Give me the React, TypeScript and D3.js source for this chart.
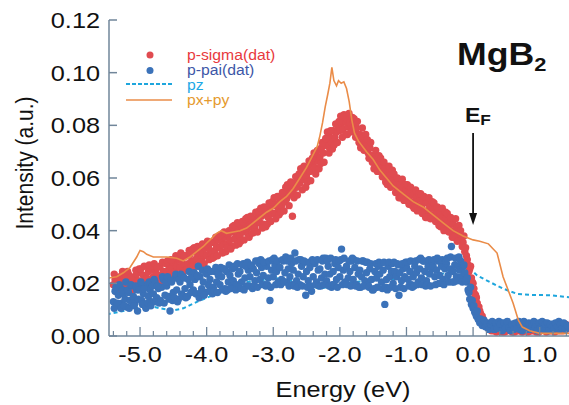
import React from 'react';
import * as d3 from 'd3';

// ---------- data ----------
// scatter rows: each row starts at rowStart + i*0.1 eV, points every 0.025 eV
// two interleaved scans per series (second one shifted by half a step)
const rowStartEnergy = -5.4;
const rowStep = 0.1;
const pointStep = 0.025;
const secondScanShift = 0.0125;

const sigmaRows: number[][] = [
  [0.0195, 0.0215, 0.0185, 0.0205], // -5.4
  [0.0225, 0.019, 0.021, 0.02], // -5.3
  [0.0215, 0.0235, 0.0195, 0.022], // -5.2
  [0.02, 0.0225, 0.0235, 0.021], // -5.1
  [0.0245, 0.0205, 0.023, 0.0215], // -5.0
  [0.022, 0.0245, 0.0215, 0.025], // -4.9
  [0.0225, 0.0255, 0.0235, 0.0215], // -4.8
  [0.0265, 0.023, 0.0245, 0.0225], // -4.7
  [0.0245, 0.027, 0.0235, 0.026], // -4.6
  [0.028, 0.0245, 0.0265, 0.029], // -4.5
  [0.026, 0.0285, 0.03, 0.027], // -4.4
  [0.0305, 0.0275, 0.031, 0.0285], // -4.3
  [0.0285, 0.032, 0.0295, 0.0315], // -4.2
  [0.033, 0.0295, 0.0315, 0.0335], // -4.1
  [0.0305, 0.034, 0.0325, 0.031], // -4.0
  [0.0355, 0.0325, 0.034, 0.0365], // -3.9
  [0.0335, 0.036, 0.0345, 0.0375], // -3.8
  [0.035, 0.0385, 0.0365, 0.034], // -3.7
  [0.0395, 0.037, 0.0405, 0.0385], // -3.6
  [0.038, 0.0415, 0.0395, 0.0425], // -3.5
  [0.0405, 0.0385, 0.043, 0.0415], // -3.4
  [0.0445, 0.0415, 0.0435, 0.046], // -3.3
  [0.043, 0.0455, 0.0425, 0.047], // -3.2
  [0.0475, 0.045, 0.0485, 0.0465], // -3.1
  [0.0495, 0.0465, 0.05, 0.0485], // -3.0
  [0.0515, 0.0495, 0.0535, 0.051], // -2.9
  [0.052, 0.055, 0.0535, 0.0565], // -2.8
  [0.0545, 0.058, 0.0565, 0.0595], // -2.7
  [0.058, 0.0615, 0.0595, 0.0625], // -2.6
  [0.0605, 0.064, 0.0625, 0.0655], // -2.5
  [0.0665, 0.064, 0.0685, 0.0665], // -2.4
  [0.068, 0.0715, 0.0695, 0.0725], // -2.3
  [0.0745, 0.072, 0.0755, 0.0735], // -2.2
  [0.078, 0.0755, 0.0775, 0.0795], // -2.1
  [0.078, 0.0805, 0.0785, 0.0815], // -2.0
  [0.0825, 0.0795, 0.081, 0.0785], // -1.9
  [0.0805, 0.0775, 0.079, 0.0765], // -1.8
  [0.0765, 0.074, 0.0755, 0.0725], // -1.7
  [0.0725, 0.0695, 0.0715, 0.0685], // -1.6
  [0.0685, 0.0655, 0.0675, 0.065], // -1.5
  [0.0655, 0.0625, 0.064, 0.0615], // -1.4
  [0.0625, 0.0595, 0.061, 0.0585], // -1.3
  [0.0595, 0.057, 0.0585, 0.056], // -1.2
  [0.0575, 0.0545, 0.0565, 0.054], // -1.1
  [0.0555, 0.0525, 0.0545, 0.051], // -1.0
  [0.0535, 0.0505, 0.0525, 0.0495], // -0.9
  [0.052, 0.049, 0.051, 0.0475], // -0.8
  [0.0505, 0.0475, 0.049, 0.046], // -0.7
  [0.0485, 0.0455, 0.047, 0.044], // -0.6
  [0.0465, 0.0435, 0.045, 0.042], // -0.5
  [0.0445, 0.0415, 0.043, 0.04], // -0.4
  [0.0425, 0.0395, 0.041, 0.038], // -0.3
  [0.0385, 0.0365, 0.0355, 0.032], // -0.2
  [0.0305, 0.027, 0.0255, 0.022], // -0.1
  [0.02, 0.016, 0.0145, 0.0105], // 0.0
  [0.0095, 0.0065, 0.0065, 0.004], // 0.1
  [0.0045, 0.003, 0.0035, 0.002], // 0.2
  [0.0025, 0.0035, 0.0015, 0.003], // 0.3
  [0.004, 0.002, 0.003, 0.0015], // 0.4
  [0.0035, 0.0025, 0.004, 0.002], // 0.5
  [0.003, 0.0015, 0.0035, 0.0025], // 0.6
  [0.002, 0.0035, 0.003, 0.0045], // 0.7
  [0.0025, 0.0015, 0.003, 0.002], // 0.8
  [0.0035, 0.0025, 0.0015, 0.003], // 0.9
  [0.002, 0.0035, 0.0025, 0.003], // 1.0
  [0.0015, 0.003, 0.002, 0.0035], // 1.1
  [0.0025, 0.0015, 0.003, 0.002], // 1.2
  [0.0035, 0.0025, 0.002, 0.003], // 1.3
  [0.0025, 0.0035], // 1.4
];

const sigmaRows2: number[][] = [
  [0.0235, 0.017, 0.021, 0.0165], // -5.4
  [0.018, 0.0245, 0.0175, 0.0225], // -5.3
  [0.0245, 0.018, 0.0225, 0.0175], // -5.2
  [0.018, 0.025, 0.019, 0.0255], // -5.1
  [0.0255, 0.0185, 0.0265, 0.019], // -5.0
  [0.0195, 0.027, 0.0205, 0.0265], // -4.9
  [0.0275, 0.02, 0.026, 0.0205], // -4.8
  [0.0205, 0.028, 0.021, 0.0275], // -4.7
  [0.0285, 0.0215, 0.029, 0.022], // -4.6
  [0.023, 0.0305, 0.0225, 0.0295], // -4.5
  [0.0315, 0.024, 0.0305, 0.025], // -4.4
  [0.0255, 0.0325, 0.026, 0.033], // -4.3
  [0.0335, 0.0265, 0.034, 0.027], // -4.2
  [0.028, 0.035, 0.0275, 0.0345], // -4.1
  [0.036, 0.029, 0.0355, 0.0295], // -4.0
  [0.03, 0.0375, 0.0305, 0.038], // -3.9
  [0.0385, 0.0315, 0.0395, 0.032], // -3.8
  [0.0335, 0.04, 0.033, 0.0415], // -3.7
  [0.042, 0.0345, 0.043, 0.035], // -3.6
  [0.036, 0.0435, 0.0365, 0.0445], // -3.5
  [0.045, 0.0375, 0.0455, 0.039], // -3.4
  [0.0395, 0.047, 0.0395, 0.0475], // -3.3
  [0.0485, 0.041, 0.049, 0.0415], // -3.2
  [0.0425, 0.0505, 0.0435, 0.051], // -3.1
  [0.0525, 0.0445, 0.053, 0.046], // -3.0
  [0.047, 0.0545, 0.0475, 0.0565], // -2.9
  [0.0575, 0.0495, 0.0585, 0.0455], // -2.8
  [0.0525, 0.0605, 0.0535, 0.0615], // -2.7
  [0.0635, 0.0555, 0.0645, 0.0565], // -2.6
  [0.0585, 0.0665, 0.059, 0.0675], // -2.5
  [0.0695, 0.0615, 0.0705, 0.0635], // -2.4
  [0.0655, 0.0735, 0.066, 0.075], // -2.3
  [0.0775, 0.0695, 0.078, 0.071], // -2.2
  [0.0725, 0.0805, 0.0735, 0.0815], // -2.1
  [0.0835, 0.0755, 0.084, 0.0765], // -2.0
  [0.0765, 0.0845, 0.0775, 0.083], // -1.9
  [0.0825, 0.0755, 0.0815, 0.0735], // -1.8
  [0.0715, 0.079, 0.0705, 0.0765], // -1.7
  [0.0745, 0.0675, 0.0735, 0.066], // -1.6
  [0.0635, 0.0705, 0.0625, 0.0685], // -1.5
  [0.0675, 0.0605, 0.066, 0.0585], // -1.4
  [0.0575, 0.0645, 0.0565, 0.063], // -1.3
  [0.0615, 0.0545, 0.06, 0.0525], // -1.2
  [0.0525, 0.0595, 0.0515, 0.0575], // -1.1
  [0.0575, 0.05, 0.0565, 0.0495], // -1.0
  [0.0485, 0.0555, 0.0475, 0.054], // -0.9
  [0.054, 0.0465, 0.053, 0.045], // -0.8
  [0.045, 0.0525, 0.0445, 0.051], // -0.7
  [0.0505, 0.0435, 0.049, 0.042], // -0.6
  [0.0415, 0.0485, 0.04, 0.047], // -0.5
  [0.0465, 0.0395, 0.045, 0.0375], // -0.4
  [0.0375, 0.0445, 0.036, 0.042], // -0.3
  [0.04, 0.034, 0.038, 0.0335], // -0.2
  [0.029, 0.0245, 0.0265, 0.0205], // -0.1
  [0.018, 0.0155, 0.0125, 0.011], // 0.0
  [0.0085, 0.0075, 0.0055, 0.005], // 0.1
  [0.0035, 0.004, 0.0025, 0.003], // 0.2
  [0.002, 0.0045, 0.003, 0.0025], // 0.3
  [0.0035, 0.0015, 0.0045, 0.0025], // 0.4
  [0.002, 0.004, 0.003, 0.0015], // 0.5
  [0.004, 0.0025, 0.002, 0.0035], // 0.6
  [0.003, 0.0015, 0.004, 0.0025], // 0.7
  [0.0045, 0.003, 0.002, 0.0035], // 0.8
  [0.002, 0.004, 0.003, 0.0015], // 0.9
  [0.0035, 0.0025, 0.0045, 0.002], // 1.0
  [0.0025, 0.004, 0.003, 0.002], // 1.1
  [0.0035, 0.002, 0.004, 0.003], // 1.2
  [0.002, 0.0035, 0.003, 0.0045], // 1.3
  [0.003], // 1.4
];

const paiRows: number[][] = [
  [0.013, 0.017, 0.0115, 0.0155], // -5.4
  [0.0185, 0.0125, 0.016, 0.014], // -5.3
  [0.011, 0.0165, 0.0135, 0.019], // -5.2
  [0.015, 0.0125, 0.0175, 0.014], // -5.1
  [0.0185, 0.0135, 0.016, 0.0115], // -5.0
  [0.0195, 0.015, 0.0175, 0.013], // -4.9
  [0.016, 0.0205, 0.0145, 0.018], // -4.8
  [0.0135, 0.0185, 0.0215, 0.0155], // -4.7
  [0.019, 0.015, 0.0095, 0.0205], // -4.6
  [0.0165, 0.022, 0.0175, 0.014], // -4.5
  [0.0205, 0.016, 0.0225, 0.018], // -4.4
  [0.015, 0.0215, 0.0195, 0.0235], // -4.3
  [0.0175, 0.0215, 0.016, 0.0265], // -4.2
  [0.0225, 0.018, 0.0205, 0.0165], // -4.1
  [0.0235, 0.0195, 0.0215, 0.0175], // -4.0
  [0.0185, 0.0245, 0.0205, 0.023], // -3.9
  [0.0195, 0.0225, 0.0255, 0.018], // -3.8
  [0.0245, 0.0205, 0.023, 0.0185], // -3.7
  [0.021, 0.026, 0.0195, 0.0235], // -3.6
  [0.0245, 0.0205, 0.0275, 0.022], // -3.5
  [0.019, 0.025, 0.0225, 0.0265], // -3.4
  [0.0255, 0.021, 0.024, 0.0285], // -3.3
  [0.0215, 0.026, 0.023, 0.0195], // -3.2
  [0.0265, 0.022, 0.0135, 0.025], // -3.1
  [0.0225, 0.027, 0.0245, 0.0205], // -3.0
  [0.026, 0.0215, 0.0285, 0.024], // -2.9
  [0.0205, 0.0255, 0.0225, 0.0275], // -2.8
  [0.025, 0.0315, 0.021, 0.0235], // -2.7
  [0.0195, 0.0265, 0.0225, 0.028], // -2.6
  [0.0245, 0.021, 0.026, 0.017], // -2.5
  [0.0225, 0.0275, 0.0205, 0.025], // -2.4
  [0.0255, 0.022, 0.0295, 0.0235], // -2.3
  [0.021, 0.0265, 0.0235, 0.0185], // -2.2
  [0.0245, 0.0275, 0.0215, 0.026], // -2.1
  [0.0225, 0.033, 0.025, 0.0205], // -2.0
  [0.0265, 0.022, 0.0245, 0.0285], // -1.9
  [0.0215, 0.026, 0.0195, 0.0235], // -1.8
  [0.025, 0.0225, 0.0285, 0.021], // -1.7
  [0.024, 0.0195, 0.0255, 0.0215], // -1.6
  [0.0175, 0.0245, 0.022, 0.0265], // -1.5
  [0.0235, 0.0205, 0.025, 0.012], // -1.4
  [0.0215, 0.0265, 0.0225, 0.0245], // -1.3
  [0.02, 0.0245, 0.0225, 0.027], // -1.2
  [0.024, 0.021, 0.0255, 0.0225], // -1.1
  [0.026, 0.0215, 0.0245, 0.0195], // -1.0
  [0.0225, 0.0265, 0.024, 0.0205], // -0.9
  [0.0255, 0.022, 0.0285, 0.0245], // -0.8
  [0.021, 0.0265, 0.0235, 0.0255], // -0.7
  [0.0265, 0.0225, 0.025, 0.0285], // -0.6
  [0.023, 0.0265, 0.0215, 0.0255], // -0.5
  [0.0275, 0.023, 0.0255, 0.034], // -0.4
  [0.0245, 0.027, 0.0225, 0.0265], // -0.3
  [0.025, 0.0225, 0.0265, 0.024], // -0.2
  [0.0205, 0.0175, 0.014, 0.012], // -0.1
  [0.0105, 0.009, 0.0075, 0.0065], // 0.0
  [0.005, 0.0055, 0.0045, 0.004], // 0.1
  [0.0035, 0.0045, 0.003, 0.004], // 0.2
  [0.004, 0.0025, 0.0045, 0.003], // 0.3
  [0.0035, 0.005, 0.0025, 0.004], // 0.4
  [0.003, 0.0045, 0.0035, 0.0025], // 0.5
  [0.0045, 0.003, 0.004, 0.0035], // 0.6
  [0.0025, 0.004, 0.005, 0.003], // 0.7
  [0.0035, 0.0045, 0.0025, 0.004], // 0.8
  [0.003, 0.0035, 0.0045, 0.0025], // 0.9
  [0.004, 0.003, 0.0035, 0.005], // 1.0
  [0.0035, 0.0025, 0.004, 0.003], // 1.1
  [0.0045, 0.0035, 0.003, 0.004], // 1.2
  [0.0025, 0.004, 0.0035, 0.003], // 1.3
  [0.0035, 0.004], // 1.4
];

const paiRows2: number[][] = [
  [0.0105, 0.0185, 0.0125, 0.0195], // -5.4
  [0.0105, 0.0175, 0.0115, 0.0205], // -5.3
  [0.0175, 0.0105, 0.0195, 0.0125], // -5.2
  [0.0115, 0.019, 0.0095, 0.0175], // -5.1
  [0.0205, 0.012, 0.018, 0.0105], // -5.0
  [0.0125, 0.0205, 0.0115, 0.019], // -4.9
  [0.0215, 0.013, 0.019, 0.0125], // -4.8
  [0.013, 0.0225, 0.0125, 0.0205], // -4.7
  [0.0225, 0.014, 0.021, 0.0135], // -4.6
  [0.0145, 0.0235, 0.013, 0.0215], // -4.5
  [0.0235, 0.015, 0.022, 0.0145], // -4.4
  [0.015, 0.0245, 0.0165, 0.0225], // -4.3
  [0.024, 0.016, 0.023, 0.0145], // -4.2
  [0.0165, 0.025, 0.0155, 0.024], // -4.1
  [0.0255, 0.017, 0.0245, 0.016], // -4.0
  [0.017, 0.026, 0.0165, 0.0245], // -3.9
  [0.026, 0.0175, 0.0255, 0.017], // -3.8
  [0.0175, 0.027, 0.018, 0.0255], // -3.7
  [0.0265, 0.0175, 0.0275, 0.0185], // -3.6
  [0.018, 0.027, 0.0175, 0.0265], // -3.5
  [0.028, 0.019, 0.027, 0.018], // -3.4
  [0.019, 0.0285, 0.0185, 0.0275], // -3.3
  [0.029, 0.0195, 0.028, 0.019], // -3.2
  [0.0195, 0.0285, 0.0185, 0.029], // -3.1
  [0.0295, 0.0195, 0.0285, 0.02], // -3.0
  [0.0195, 0.029, 0.0205, 0.03], // -2.9
  [0.0285, 0.019, 0.0295, 0.0195], // -2.8
  [0.019, 0.0285, 0.0185, 0.029], // -2.7
  [0.029, 0.019, 0.0285, 0.0155], // -2.6
  [0.0185, 0.028, 0.019, 0.029], // -2.5
  [0.0285, 0.0195, 0.029, 0.019], // -2.4
  [0.019, 0.0285, 0.0195, 0.0295], // -2.3
  [0.0285, 0.019, 0.0295, 0.0195], // -2.2
  [0.0195, 0.029, 0.0185, 0.0285], // -2.1
  [0.029, 0.0195, 0.0295, 0.02], // -2.0
  [0.0195, 0.0285, 0.019, 0.0295], // -1.9
  [0.029, 0.019, 0.0285, 0.0185], // -1.8
  [0.0185, 0.0285, 0.019, 0.028], // -1.7
  [0.028, 0.0185, 0.0275, 0.0175], // -1.6
  [0.018, 0.0275, 0.0185, 0.028], // -1.5
  [0.0275, 0.018, 0.028, 0.0185], // -1.4
  [0.0175, 0.028, 0.0185, 0.0275], // -1.3
  [0.028, 0.018, 0.0275, 0.0155], // -1.2
  [0.0185, 0.0275, 0.018, 0.028], // -1.1
  [0.028, 0.019, 0.0285, 0.0185], // -1.0
  [0.019, 0.0285, 0.0195, 0.029], // -0.9
  [0.0295, 0.0195, 0.0285, 0.019], // -0.8
  [0.0195, 0.029, 0.019, 0.0285], // -0.7
  [0.029, 0.0195, 0.0295, 0.02], // -0.6
  [0.02, 0.029, 0.0195, 0.0285], // -0.5
  [0.0295, 0.0205, 0.03, 0.0205], // -0.4
  [0.0205, 0.0295, 0.021, 0.03], // -0.3
  [0.0285, 0.0205, 0.027, 0.021], // -0.2
  [0.022, 0.0165, 0.0185, 0.0135], // -0.1
  [0.0115, 0.0085, 0.0095, 0.006], // 0.0
  [0.0065, 0.004, 0.006, 0.0035], // 0.1
  [0.005, 0.0025, 0.0045, 0.0055], // 0.2
  [0.0025, 0.005, 0.003, 0.0055], // 0.3
  [0.0045, 0.002, 0.005, 0.003], // 0.4
  [0.0055, 0.003, 0.002, 0.0045], // 0.5
  [0.0025, 0.005, 0.003, 0.0055], // 0.6
  [0.0045, 0.002, 0.0055, 0.0035], // 0.7
  [0.0025, 0.005, 0.003, 0.0045], // 0.8
  [0.0055, 0.0035, 0.002, 0.005], // 0.9
  [0.003, 0.0055, 0.0025, 0.0045], // 1.0
  [0.005, 0.002, 0.0045, 0.0035], // 1.1
  [0.0025, 0.005, 0.0035, 0.0055], // 1.2
  [0.0045, 0.003, 0.005, 0.0025], // 1.3
  [0.004], // 1.4
];

// pz (dashed) curve
const pzEnergy = [-5.5, -5.25, -5.0, -4.85, -4.7, -4.5, -4.35, -4.1, -3.85, -3.6, -3.4, -3.1, -2.9, -2.6, -2.3, -2.0, -1.8, -1.5, -1.0, -0.5, -0.15, 0.0, 0.06, 0.25, 0.45, 0.66, 0.86, 1.16, 1.45];
const pzValue = [0.0082, 0.0095, 0.011, 0.0115, 0.0105, 0.0097, 0.0105, 0.0135, 0.016, 0.0185, 0.0205, 0.0215, 0.022, 0.02, 0.018, 0.0195, 0.0205, 0.021, 0.022, 0.0235, 0.025, 0.0245, 0.023, 0.0205, 0.018, 0.016, 0.0156, 0.0155, 0.0147];

// px+py (solid) curve
const pxpyEnergy = [-5.47, -5.35, -5.25, -5.15, -5.05, -5.0, -4.95, -4.9, -4.8, -4.6, -4.45, -4.35, -4.25, -4.15, -4.05, -3.95, -3.85, -3.78, -3.7, -3.6, -3.5, -3.4, -3.3, -3.2, -3.1, -3.0, -2.9, -2.8, -2.7, -2.6, -2.5, -2.4, -2.34, -2.3, -2.26, -2.22, -2.18, -2.15, -2.12, -2.09, -2.05, -2.02, -1.98, -1.94, -1.9, -1.86, -1.82, -1.78, -1.72, -1.6, -1.5, -1.4, -1.3, -1.2, -1.05, -0.9, -0.75, -0.6, -0.45, -0.3, -0.15, 0.0, 0.1, 0.23, 0.36, 0.45, 0.6, 0.68, 0.74, 0.85, 1.0, 1.45];
const pxpyValue = [0.022, 0.0225, 0.024, 0.026, 0.03, 0.0325, 0.032, 0.031, 0.03, 0.03, 0.0295, 0.0285, 0.03, 0.032, 0.034, 0.0365, 0.039, 0.04, 0.039, 0.0395, 0.04, 0.041, 0.043, 0.045, 0.047, 0.0485, 0.051, 0.053, 0.056, 0.06, 0.064, 0.069, 0.072, 0.076, 0.081, 0.087, 0.092, 0.096, 0.102, 0.097, 0.095, 0.097, 0.096, 0.0965, 0.094, 0.089, 0.082, 0.077, 0.074, 0.07, 0.067, 0.063, 0.06, 0.057, 0.054, 0.051, 0.049, 0.046, 0.043, 0.04, 0.038, 0.0365, 0.036, 0.035, 0.0315, 0.0225, 0.0125, 0.006, 0.0034, 0.002, 0.001, 0.001];

const yTicks = [0, 0.02, 0.04, 0.06, 0.08, 0.1, 0.12];
const xMajorTicks = [-5, -4, -3, -2, -1, 0, 1];
const xMinorTicks = [-5.4, -5.2, -4.8, -4.6, -4.4, -4.2, -3.8, -3.6, -3.4, -3.2, -2.8, -2.6, -2.4, -2.2, -1.8, -1.6, -1.4, -1.2, -0.8, -0.6, -0.4, -0.2, 0.2, 0.4, 0.6, 0.8, 1.2, 1.4];

const legendItems = ['p-sigma(dat)', 'p-pai(dat)', 'pz', 'px+py'];

// ---------- styling ----------
const FONT = '"Liberation Sans", Arial, Helvetica, sans-serif';
const RED = '#e04b50';
const BLUE = '#3b72b9';
const ORANGE = '#ea8c48';
const CYAN = '#1ea6dd';
const AXIS = '#71869a';
const SX = 1.15;

const x = d3.scaleLinear().domain([-5.466, 1.44]).range([109, 569]);
const y = d3.scaleLinear().domain([0, 0.12]).range([336, 20]);

function rowsToPoints(rows: number[][], shift: number) {
  const pts: { e: number; v: number }[] = [];
  rows.forEach((row, i) => {
    row.forEach((v, j) => {
      pts.push({ e: rowStartEnergy + shift + i * rowStep + j * pointStep, v });
    });
  });
  return pts;
}

const line = d3
  .line<[number, number]>()
  .x((d) => x(d[0]))
  .y((d) => y(d[1]));

export default function App() {
  const sigma = [...rowsToPoints(sigmaRows, 0), ...rowsToPoints(sigmaRows2, secondScanShift)];
  const pai = [...rowsToPoints(paiRows, 0), ...rowsToPoints(paiRows2, secondScanShift)];
  const pz = line(pzEnergy.map((e, i) => [e, pzValue[i]] as [number, number])) || '';
  const pxpy = line(pxpyEnergy.map((e, i) => [e, pxpyValue[i]] as [number, number])) || '';
  const axisBottom = y(0);
  const axisLeft = x.range()[0];

  return (
    <svg width={569} height={405} style={{ position: 'absolute', left: 0, top: 0, background: '#fff' }} fontFamily={FONT}>
      <defs>
        <clipPath id="plot">
          <rect x={axisLeft} y={0} width={569 - axisLeft} height={axisBottom + 1} />
        </clipPath>
      </defs>
      <rect x={0} y={0} width={569} height={405} fill="#fff" />

      <g clipPath="url(#plot)">
        <path d={pz} fill="none" stroke={CYAN} strokeWidth={2} strokeDasharray="4 3" />
        {sigma.map((p, i) => (
          <circle key={'s' + i} cx={x(p.e)} cy={y(p.v)} r={3.7} fill={RED} />
        ))}
        {pai.map((p, i) => (
          <circle key={'p' + i} cx={x(p.e)} cy={y(p.v)} r={3.7} fill={BLUE} />
        ))}
        <path d={pxpy} fill="none" stroke={ORANGE} strokeWidth={1.6} />
      </g>

      {/* axes */}
      <line x1={axisLeft} x2={axisLeft} y1={y(0.12)} y2={axisBottom} stroke={AXIS} strokeWidth={1.5} />
      <line x1={axisLeft} x2={569} y1={axisBottom} y2={axisBottom} stroke={AXIS} strokeWidth={1.5} />
      {yTicks.map((t) => (
        <g key={'yt' + t}>
          <line x1={axisLeft} x2={axisLeft + 8} y1={y(t)} y2={y(t)} stroke={AXIS} strokeWidth={1.5} />
          <text
            transform={`translate(100,${y(t) + 8}) scale(${SX},1)`}
            textAnchor="end"
            fontSize={22}
            fill="#111"
          >
            {t.toFixed(2)}
          </text>
        </g>
      ))}
      {xMajorTicks.map((t) => (
        <g key={'xt' + t}>
          <line x1={x(t)} x2={x(t)} y1={axisBottom} y2={axisBottom - 9} stroke={AXIS} strokeWidth={1.3} />
          <text
            transform={`translate(${x(t)},362) scale(${SX},1)`}
            textAnchor="middle"
            fontSize={22}
            fill="#111"
          >
            {t.toFixed(1)}
          </text>
        </g>
      ))}
      {xMinorTicks.map((t) => (
        <line key={'xm' + t} x1={x(t)} x2={x(t)} y1={axisBottom} y2={axisBottom - 5} stroke={AXIS} strokeWidth={1.2} />
      ))}

      {/* axis titles */}
      <text transform={`translate(343,397) scale(${SX},1)`} textAnchor="middle" fontSize={22} fill="#111">
        Energy (eV)
      </text>
      <text transform={`translate(33,163) rotate(-90) scale(1,${SX})`} textAnchor="middle" fontSize={21} fill="#111">
        Intensity (a.u.)
      </text>

      {/* legend */}
      <circle cx={150} cy={55} r={3.5} fill={RED} />
      <circle cx={150} cy={70.5} r={3.5} fill={BLUE} />
      <line x1={126} x2={172} y1={84} y2={84} stroke={CYAN} strokeWidth={2} strokeDasharray="4 2" />
      <line x1={126} x2={172} y1={100} y2={100} stroke={ORANGE} strokeWidth={1.6} />
      {legendItems.map((label, i) => (
        <text
          key={label}
          transform={`translate(187,${[59.5, 75, 90, 105][i]}) scale(1.05,1)`}
          fontSize={15}
          fill={['#e8393d', '#3d57a7', '#1ea8e6', '#e59a2e'][i]}
        >
          {label}
        </text>
      ))}

      {/* title */}
      <text transform={`translate(457,65) scale(${SX},1)`} fontWeight="bold" fill="#111">
        <tspan fontSize={31}>MgB</tspan>
        <tspan fontSize={19} dy={6}>2</tspan>
      </text>

      {/* E_F marker */}
      <text transform={`translate(465,122) scale(${SX},1)`} fontWeight="bold" fill="#111">
        <tspan fontSize={20}>E</tspan>
        <tspan fontSize={15} dy={3}>F</tspan>
      </text>
      <line x1={x(0)} x2={x(0)} y1={133} y2={216} stroke="#111" strokeWidth={1.8} />
      <path d={`M${x(0) - 4},${213} L${x(0) + 4},${213} L${x(0)},${225} Z`} fill="#111" />
    </svg>
  );
}
